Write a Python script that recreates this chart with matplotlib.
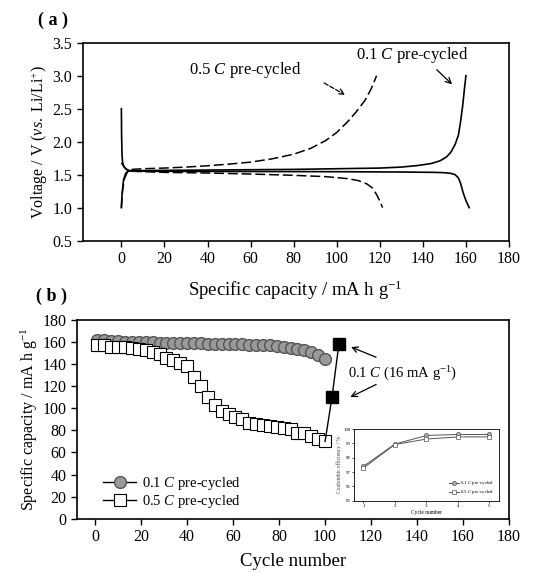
import matplotlib
matplotlib.use("Agg")
import matplotlib.pyplot as plt

plt.rcParams['font.family'] = ['Liberation Serif', 'DejaVu Serif']
plt.rcParams['mathtext.fontset'] = 'custom'
plt.rcParams['mathtext.rm'] = 'Liberation Serif'
plt.rcParams['mathtext.it'] = 'Liberation Serif:italic'
plt.rcParams['xtick.direction'] = 'out'
plt.rcParams['ytick.direction'] = 'out'

# ---- panel (a): voltage profiles ----
cap_01_chg = [0, 0.3, 1, 2, 3, 5, 20, 40, 60, 80, 100, 120, 130, 138, 144, 148, 151, 153, 155, 156.5, 157.5, 158.5, 159.3, 160]
v_01_chg = [1.0, 1.2, 1.42, 1.52, 1.55, 1.56, 1.565, 1.57, 1.575, 1.58, 1.59, 1.6, 1.615, 1.64, 1.67, 1.71, 1.77, 1.84, 1.96, 2.1, 2.3, 2.55, 2.8, 3.0]
cap_01_dis = [0, 0.1, 0.3, 0.6, 1.2, 2.5, 5, 20, 60, 100, 130, 145, 150, 153, 155, 156.5, 157.5, 158.5, 159.5, 160.5, 161.5]
v_01_dis = [2.5, 2.1, 1.8, 1.68, 1.62, 1.575, 1.555, 1.55, 1.548, 1.545, 1.54, 1.535, 1.53, 1.52, 1.5, 1.45, 1.37, 1.25, 1.15, 1.07, 1.0]
cap_05_chg = [0, 0.5, 1.5, 3, 5, 10, 20, 30, 40, 50, 60, 70, 80, 88, 95, 100, 105, 109, 113, 116, 118.5]
v_05_chg = [1.0, 1.25, 1.45, 1.55, 1.58, 1.59, 1.6, 1.615, 1.635, 1.66, 1.69, 1.74, 1.81, 1.9, 2.02, 2.14, 2.3, 2.45, 2.62, 2.8, 3.0]
cap_05_dis = [0, 1, 2, 3.5, 6, 20, 40, 60, 80, 95, 105, 110, 114, 116.5, 118.5, 120, 121.3]
v_05_dis = [1.68, 1.63, 1.59, 1.565, 1.55, 1.535, 1.525, 1.51, 1.49, 1.47, 1.44, 1.41, 1.36, 1.3, 1.2, 1.1, 1.0]

# ---- panel (b): cycling ----
cycles = [1, 4, 7, 10, 13, 16, 19, 22, 25, 28, 31, 34, 37, 40, 43, 46, 49, 52, 55, 58,
          61, 64, 67, 70, 73, 76, 79, 82, 85, 88, 91, 94, 97, 100]
cap_01 = [162, 161.5, 161, 161, 160.5, 160.5, 160, 160, 160, 159.5, 159.5, 159, 159, 159, 159, 159, 158.5,
          158.5, 158.5, 158, 158, 158, 157.5, 157.5, 157, 157, 156.5, 156, 155, 154, 152.8, 151, 148, 145]
cap_05 = [157, 157, 156, 156, 156, 155, 154, 153, 151, 149, 146, 144, 141, 138, 128, 120, 110, 103, 98, 95,
          92, 90, 87, 86, 85, 84, 83, 82, 81, 78, 78, 75, 72, 70]
rec_cycles = [103, 106]
rec_cap = [110, 158]

# ---- inset: coulombic efficiency ----
ce_cycles = [1, 2, 3, 4, 5]
ce_01 = [97.4, 98.95, 99.55, 99.62, 99.62]
ce_05 = [97.28, 98.92, 99.3, 99.45, 99.45]

fig = plt.figure(figsize=(5.33, 5.73), dpi=100)

ax1 = fig.add_axes([0.155, 0.58, 0.80, 0.3455])
ax1.plot(cap_01_chg, v_01_chg, color='black', lw=1.2)
ax1.plot(cap_01_dis, v_01_dis, color='black', lw=1.2)
ax1.plot(cap_05_chg, v_05_chg, color='black', lw=1.1, dashes=(6.5, 2.5))
ax1.plot(cap_05_dis, v_05_dis, color='black', lw=1.1, dashes=(6.5, 2.5))
ax1.set_xlim(-18, 180)
ax1.set_ylim(0.5, 3.5)
ax1.set_xticks(range(0, 181, 20))
ax1.set_yticks([0.5, 1.0, 1.5, 2.0, 2.5, 3.0, 3.5])
ax1.set_yticklabels(['0.5', '1.0', '1.5', '2.0', '2.5', '3.0', '3.5'])
ax1.tick_params(labelsize=11.5, length=4, width=1)
ax1.set_xlabel(r'Specific capacity / mA h g$^{-1}$', fontsize=13.5, labelpad=8)
ax1.set_ylabel(r'Voltage / V ($\it{vs.}$ Li/Li$^{+}$)', fontsize=11.5, labelpad=2)
for s in ax1.spines.values():
    s.set_linewidth(1.2)
ax1.text(31.5, 3.09, r'0.5 $\it{C}$ pre-cycled', fontsize=12, va='center')
ax1.annotate('', xy=(105, 2.69), xytext=(93, 2.91),
             arrowprops=dict(arrowstyle='->', lw=0.9, linestyle='--', color='black'))
ax1.text(109, 3.31, r'0.1 $\it{C}$ pre-cycled', fontsize=12, va='center')
ax1.annotate('', xy=(154.5, 2.84), xytext=(145.5, 3.12),
             arrowprops=dict(arrowstyle='->', lw=0.9, color='black'))
fig.text(0.072, 0.965, '( a )', fontsize=13, fontweight='bold', va='center')

ax2 = fig.add_axes([0.144, 0.0948, 0.811, 0.3467])
ax2.plot(cycles, cap_01, color='black', lw=1, marker='o', markersize=8.5,
         markerfacecolor='#999999', markeredgecolor='#555555', label=r'0.1 $\it{C}$ pre-cycled')
ax2.plot(cycles, cap_05, color='black', lw=1, marker='s', markersize=8.5,
         markerfacecolor='white', markeredgecolor='black', markeredgewidth=0.8, label=r'0.5 $\it{C}$ pre-cycled')
ax2.plot([cycles[-1]] + rec_cycles, [cap_05[-1]] + rec_cap, color='black', lw=1)
ax2.plot(rec_cycles, rec_cap, ls='none', marker='s', markersize=8.5, color='black')
ax2.set_xlim(-8, 180)
ax2.set_ylim(0, 180)
ax2.set_xticks(range(0, 181, 20))
ax2.set_yticks(range(0, 181, 20))
ax2.tick_params(labelsize=11.5, length=4, width=1)
ax2.set_xlabel('Cycle number', fontsize=13.5, labelpad=6)
ax2.set_ylabel(r'Specific capacity / mA h g$^{-1}$', fontsize=11.5, labelpad=2)
for s in ax2.spines.values():
    s.set_linewidth(1.2)
ax2.legend(loc='lower left', bbox_to_anchor=(0.04, 0.0), frameon=False, fontsize=10.5,
           handlelength=2.3, handletextpad=0.4, labelspacing=0.05, borderaxespad=0.2)
ax2.text(110, 131, r'0.1 $\it{C}$ (16 mA g$^{-1}$)', fontsize=10.5, va='center')
ax2.annotate('', xy=(110.2, 156.5), xytext=(123.3, 145.3),
             arrowprops=dict(arrowstyle='->', lw=0.9, color='black'))
ax2.annotate('', xy=(109.9, 109.1), xytext=(123.3, 122.7),
             arrowprops=dict(arrowstyle='->', lw=0.9, color='black'))
fig.text(0.068, 0.482, '( b )', fontsize=13, fontweight='bold', va='center')

ax3 = fig.add_axes([0.664, 0.126, 0.272, 0.1253])
ax3.plot(ce_cycles, ce_01, color='#555555', lw=0.7, marker='o', markersize=3,
         markerfacecolor='#aaaaaa', markeredgecolor='#555555', markeredgewidth=0.5, label=r'0.1 $\it{C}$ pre-cycled')
ax3.plot(ce_cycles, ce_05, color='#555555', lw=0.7, marker='s', markersize=3,
         markerfacecolor='white', markeredgecolor='#555555', markeredgewidth=0.5, label=r'0.5 $\it{C}$ pre-cycled')
ax3.set_xlim(0.7, 5.3)
ax3.set_ylim(95, 100)
ax3.set_xticks(ce_cycles)
ax3.set_yticks([95, 96, 97, 98, 99, 100])
ax3.tick_params(labelsize=3.5, length=1.5, width=0.5, pad=1)
ax3.set_xlabel('Cycle number', fontsize=4, labelpad=1)
ax3.set_ylabel('Coulombic efficiency / %', fontsize=4, labelpad=1, color='#5a4030')
for s in ax3.spines.values():
    s.set_linewidth(0.6)
ax3.legend(loc='lower right', frameon=False, fontsize=3.5, handlelength=2,
           handletextpad=0.3, labelspacing=0.2)

fig.savefig('out.png', dpi=100)
